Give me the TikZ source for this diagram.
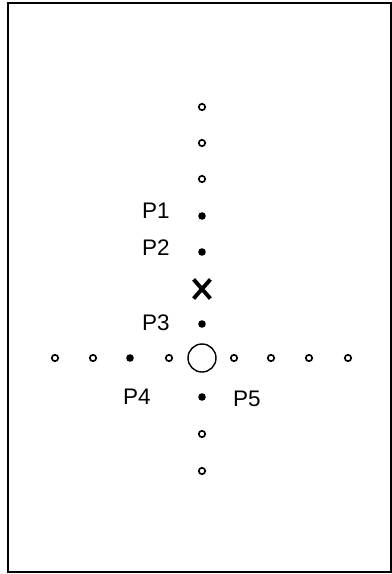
\documentclass[tikz,border=0pt]{standalone}
\usepackage{fontspec}
\setmainfont{Liberation Sans}
\usetikzlibrary{shapes.misc}

\begin{document}
\begin{tikzpicture}[x=0.025cm,y=-0.025cm,font=\fontsize{16}{19}\selectfont,
 opn/.style={circle,draw,line width=1.2pt,inner sep=0pt,minimum size=0.16cm},
 pnt/.style={circle,fill,inner sep=0pt,minimum size=0.19cm},
 lbl/.style={inner sep=0pt}]
\fill[white] (0,0) rectangle (392,574);
\draw[line width=1.1pt] (8,3) rectangle (391,572);
% vertical row
\node[opn] (v1) at (202,107) {};
\node[opn] (v2) at (202,143) {};
\node[opn] (v3) at (202,179) {};
\node[pnt] (p1) at (202,216) {};
\node[pnt] (p2) at (202,252) {};
\node[cross out,draw,line width=2.8pt,minimum width=0.32cm,minimum height=0.38cm,inner sep=0pt] (tx) at (202,289) {};
\node[pnt] (p3) at (202,324) {};
\node[circle,draw,line width=1pt,inner sep=0pt,minimum size=0.7cm] (c0) at (202,358) {};
\node[pnt] (p5) at (202,397) {};
\node[opn] (v4) at (202,434) {};
\node[opn] (v5) at (202,471) {};
% horizontal row
\node[opn] (h1) at (55,358) {};
\node[opn] (h2) at (93,358) {};
\node[pnt] (p4) at (130,358) {};
\node[opn] (h3) at (169,358) {};
\node[opn] (h4) at (234,358) {};
\node[opn] (h5) at (271,358) {};
\node[opn] (h6) at (309,358) {};
\node[opn] (h7) at (348,358) {};
% labels
\node[lbl] (l1) at (156,211) {P1};
\node[lbl] (l2) at (156,248) {P2};
\node[lbl] (l3) at (156,323) {P3};
\node[lbl] (l4) at (137,397) {P4};
\node[lbl] (l5) at (247,399) {P5};
\end{tikzpicture}
\end{document}
